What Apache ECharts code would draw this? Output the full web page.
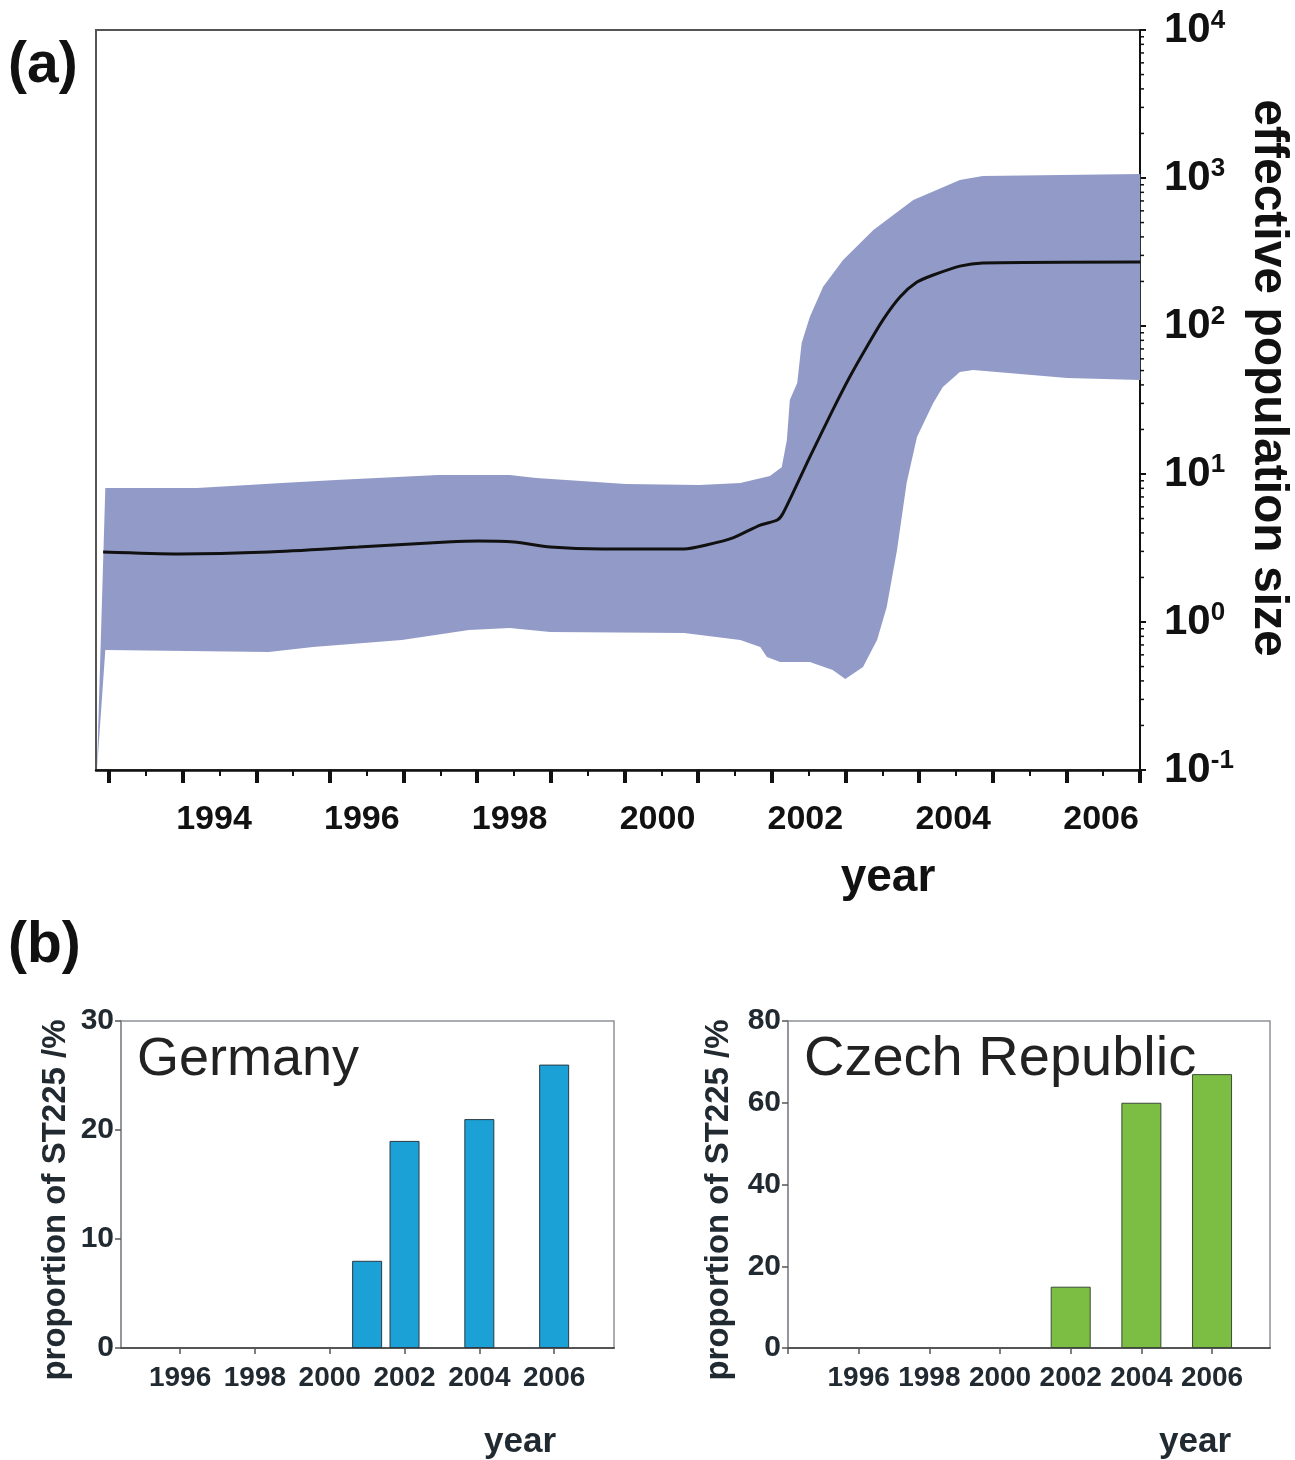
<!DOCTYPE html>
<html>
<head>
<meta charset="utf-8">
<script src="https://cdn.jsdelivr.net/npm/echarts@6/dist/echarts.min.js"></script>
<style>
html,body{margin:0;padding:0;background:#fff;}
#chart{width:1295px;height:1460px;}
</style>
</head>
<body>
<div id="chart"></div>
<script>
// ---------- (a) skyline plot data: [year, effective population size] ----------
const meanLine = [
  [1992.50, 2.97], [1993.53, 2.88], [1994.74, 2.97], [1995.95, 3.21], [1997.15, 3.47],
  [1997.57, 3.53], [1998.06, 3.47], [1998.55, 3.21], [1999.26, 3.11], [2000.36, 3.11],
  [2000.66, 3.31], [2001.02, 3.70], [2001.39, 4.52], [2001.62, 4.89], [2001.70, 5.45],
  [2002.06, 13.0], [2002.37, 27.0], [2002.60, 45.2], [2002.83, 72.1], [2003.05, 110],
  [2003.28, 157], [2003.51, 198], [2003.73, 221], [2004.09, 254], [2004.40, 267],
  [2006.53, 271]
];
const upperBand = [
  [1992.417, 0.1], [1992.53, 8.04], [1993.77, 8.04], [1994.92, 8.69], [1995.65, 9.10],
  [1997.03, 9.85], [1998.00, 9.85], [1998.36, 9.40], [1999.57, 8.56], [2000.57, 8.43],
  [2001.12, 8.69], [2001.52, 9.69], [2001.68, 11.1], [2001.75, 17.0], [2001.79, 31.6],
  [2001.89, 41.2], [2001.95, 76.8], [2002.06, 115], [2002.24, 184], [2002.51, 279],
  [2002.92, 445], [2003.46, 710], [2004.09, 969], [2004.40, 1032], [2006.53, 1064]
];
const lowerBand = [
  [1992.417, 0.1], [1992.53, 0.647], [1994.74, 0.627], [1995.34, 0.678], [1996.54, 0.755],
  [1997.45, 0.883], [1998.00, 0.910], [1998.55, 0.855], [2000.36, 0.843], [2001.12, 0.755],
  [2001.39, 0.678], [2001.48, 0.580], [2001.66, 0.537], [2002.06, 0.537], [2002.37, 0.474],
  [2002.54, 0.412], [2002.78, 0.496], [2002.97, 0.755], [2003.10, 1.26], [2003.24, 3.06],
  [2003.37, 8.69], [2003.51, 17.8], [2003.73, 30.2], [2003.86, 38.7], [2004.09, 48.9],
  [2004.27, 50.4], [2005.54, 44.5], [2006.53, 43.2]
];
const topYearLabels = [1994, 1996, 1998, 2000, 2002, 2004, 2006];

// ---------- (b) proportion of ST225 (%) ----------
const germanyYears = [2001, 2002, 2004, 2006];
const germanyValues = [8, 19, 21, 26];
const czechYears = [2002, 2004, 2006];
const czechValues = [15, 60, 67];
const bottomYearLabels = [1996, 1998, 2000, 2002, 2004, 2006];

// ---------- layout / axis helpers ----------
const X_MIN = 1992.404, X_MAX = 2006.527;
const TICK_START = 1992.58;
const TICK_STEP = (X_MAX - TICK_START) / 14;
const majorTicks = [];
for (let i = 0; i <= 14; i++) majorTicks.push(Math.min(TICK_START + i * TICK_STEP, X_MAX));
const minorTicks = [];
for (let i = 0; i < 14; i++) minorTicks.push(TICK_START + (i + 0.5) * TICK_STEP);
const logMinor = [];
for (let e = -1; e <= 3; e++) for (let k = 2; k <= 9; k++) logMinor.push([X_MAX, k * Math.pow(10, e)]);

const FONT = '"Liberation Sans", Arial, Helvetica, sans-serif';
const DARK = '#111';
const SLATE = '#222a31';

const chart = echarts.init(document.getElementById('chart'), null, {renderer: 'canvas'});

function bottomY(max, interval) {
  return {
    type: 'value', min: 0, max: max, interval: interval,
    axisLine: {show: true, lineStyle: {color: '#8d9196', width: 1.5}},
    axisTick: {show: true, inside: false, length: 6, lineStyle: {color: '#555', width: 1.5}},
    splitLine: {show: false},
    axisLabel: {margin: 7, color: SLATE, fontFamily: FONT, fontWeight: 'bold', fontSize: 30}
  };
}
function bottomX(min, max, tickVals) {
  return {
    type: 'value', min: min, max: max,
    axisLine: {show: true, lineStyle: {color: '#555', width: 2}},
    axisTick: {show: true, customValues: tickVals, length: 6, lineStyle: {color: '#555', width: 1.5}},
    axisLabel: {customValues: bottomYearLabels, margin: 16, color: SLATE, fontFamily: FONT,
      fontWeight: 'bold', fontSize: 28, formatter: v => String(v)},
    splitLine: {show: false}
  };
}
function vText(text, x, y, rot, font, fill) {
  return {type: 'text', x: x, y: y, rotation: rot,
    style: {text: text, x: 0, y: 0, align: 'center', verticalAlign: 'middle', font: font, fill: fill}};
}

const option = {
  backgroundColor: '#fff',
  animation: false,
  grid: [
    {left: 96, top: 30, width: 1044, height: 740, show: true, borderColor: '#555', borderWidth: 2, backgroundColor: 'transparent'},
    {left: 121, top: 1021, width: 493, height: 327, show: true, borderColor: '#8d9196', borderWidth: 1.5},
    {left: 788, top: 1021, width: 482, height: 327, show: true, borderColor: '#8d9196', borderWidth: 1.5}
  ],
  xAxis: [
    {
      gridIndex: 0, type: 'value', min: X_MIN, max: X_MAX, position: 'bottom',
      axisLine: {show: true, lineStyle: {color: DARK, width: 2.5}},
      axisTick: {show: true, customValues: majorTicks, length: 13, lineStyle: {color: DARK, width: 4}},
      axisLabel: {customValues: topYearLabels, margin: 33, color: DARK, fontFamily: FONT,
        fontWeight: 'bold', fontSize: 34, formatter: v => String(v)},
      splitLine: {show: false}
    },
    {
      gridIndex: 0, type: 'value', min: X_MIN, max: X_MAX, position: 'bottom',
      axisLine: {show: false},
      axisTick: {show: true, customValues: minorTicks, length: 6, lineStyle: {color: DARK, width: 2}},
      axisLabel: {show: false},
      splitLine: {show: false}
    },
    Object.assign({gridIndex: 1}, bottomX(1994.42, 2007.6, bottomYearLabels)),
    Object.assign({gridIndex: 2}, bottomX(1994, 2007.64, [1994].concat(bottomYearLabels)))
  ],
  yAxis: [
    {
      gridIndex: 0, type: 'log', logBase: 10, min: 0.1, max: 10000, splitNumber: 5, position: 'right',
      axisLine: {show: true, lineStyle: {color: DARK, width: 2}},
      axisTick: {show: true, inside: false, length: 6, lineStyle: {color: DARK, width: 2}},
      splitLine: {show: false},
      axisLabel: {
        margin: 24,
        formatter: function (v) {
          const e = Math.round(Math.log10(v));
          return '{b|10}{s|' + e + '}';
        },
        rich: {
          b: {fontFamily: FONT, fontWeight: 'bold', fontSize: 42, color: DARK, lineHeight: 44},
          s: {fontFamily: FONT, fontWeight: 'bold', fontSize: 26, color: DARK, verticalAlign: 'top', lineHeight: 26}
        }
      }
    },
    Object.assign({gridIndex: 1}, bottomY(30, 10)),
    Object.assign({gridIndex: 2}, bottomY(80, 20))
  ],
  graphic: [
    {type: 'text', left: 8, top: 38, style: {text: '(a)', font: 'bold 57px ' + FONT, fill: DARK}},
    {type: 'text', left: 8, top: 918, style: {text: '(b)', font: 'bold 57px ' + FONT, fill: DARK}},
    vText('year', 888, 878, 0, 'bold 46px ' + FONT, DARK),
    vText('effective population size', 1268, 378, -Math.PI / 2, 'bold 48px ' + FONT, DARK),
    vText('proportion of ST225 /%', 56, 1200, Math.PI / 2, 'bold 33px ' + FONT, SLATE),
    vText('proportion of ST225 /%', 719, 1200, Math.PI / 2, 'bold 33px ' + FONT, SLATE),
    {type: 'text', x: 137, y: 1060, z: 100, style: {text: 'Germany', x: 0, y: 0, align: 'left', verticalAlign: 'middle', font: '54px ' + FONT, fill: '#222'}},
    {type: 'text', x: 804, y: 1060, z: 100, style: {text: 'Czech Republic', x: 0, y: 0, align: 'left', verticalAlign: 'middle', font: '56px ' + FONT, fill: '#222'}},
    vText('year', 520, 1442, 0, 'bold 35px ' + FONT, SLATE),
    vText('year', 1195, 1442, 0, 'bold 35px ' + FONT, SLATE)
  ],
  series: [
    {
      name: '95% HPD', type: 'custom', coordinateSystem: 'cartesian2d', xAxisIndex: 0, yAxisIndex: 0,
      silent: true, z: 1, data: [[2000, 1]],
      renderItem: function (params, api) {
        const pts = upperBand.map(p => api.coord(p))
          .concat(lowerBand.slice().reverse().map(p => api.coord(p)));
        return {type: 'polygon', shape: {points: pts}, style: {fill: '#929bc8'}};
      }
    },
    {
      name: 'median', type: 'line', xAxisIndex: 0, yAxisIndex: 0, data: meanLine,
      showSymbol: false, symbol: 'none', smooth: 0.25, z: 3,
      lineStyle: {color: DARK, width: 3}
    },
    {
      name: 'minor log ticks', type: 'custom', coordinateSystem: 'cartesian2d', xAxisIndex: 0, yAxisIndex: 0,
      silent: true, z: 5, data: logMinor,
      renderItem: function (params, api) {
        const p = api.coord([api.value(0), api.value(1)]);
        return {type: 'line', shape: {x1: p[0], y1: p[1], x2: p[0] + 4, y2: p[1]},
          style: {stroke: DARK, lineWidth: 1.5}};
      }
    },
    {
      name: 'Germany', type: 'bar', xAxisIndex: 2, yAxisIndex: 1, barWidth: 30,
      data: germanyYears.map((y, i) => [y, germanyValues[i]]),
      itemStyle: {color: '#1ba1d5', borderColor: '#2b3a44', borderWidth: 1}
    },
    {
      name: 'Czech Republic', type: 'bar', xAxisIndex: 3, yAxisIndex: 2, barWidth: 40,
      data: czechYears.map((y, i) => [y, czechValues[i]]),
      itemStyle: {color: '#7cbd43', borderColor: '#3b4a38', borderWidth: 1}
    }
  ]
};
chart.setOption(option);
</script>
</body>
</html>
